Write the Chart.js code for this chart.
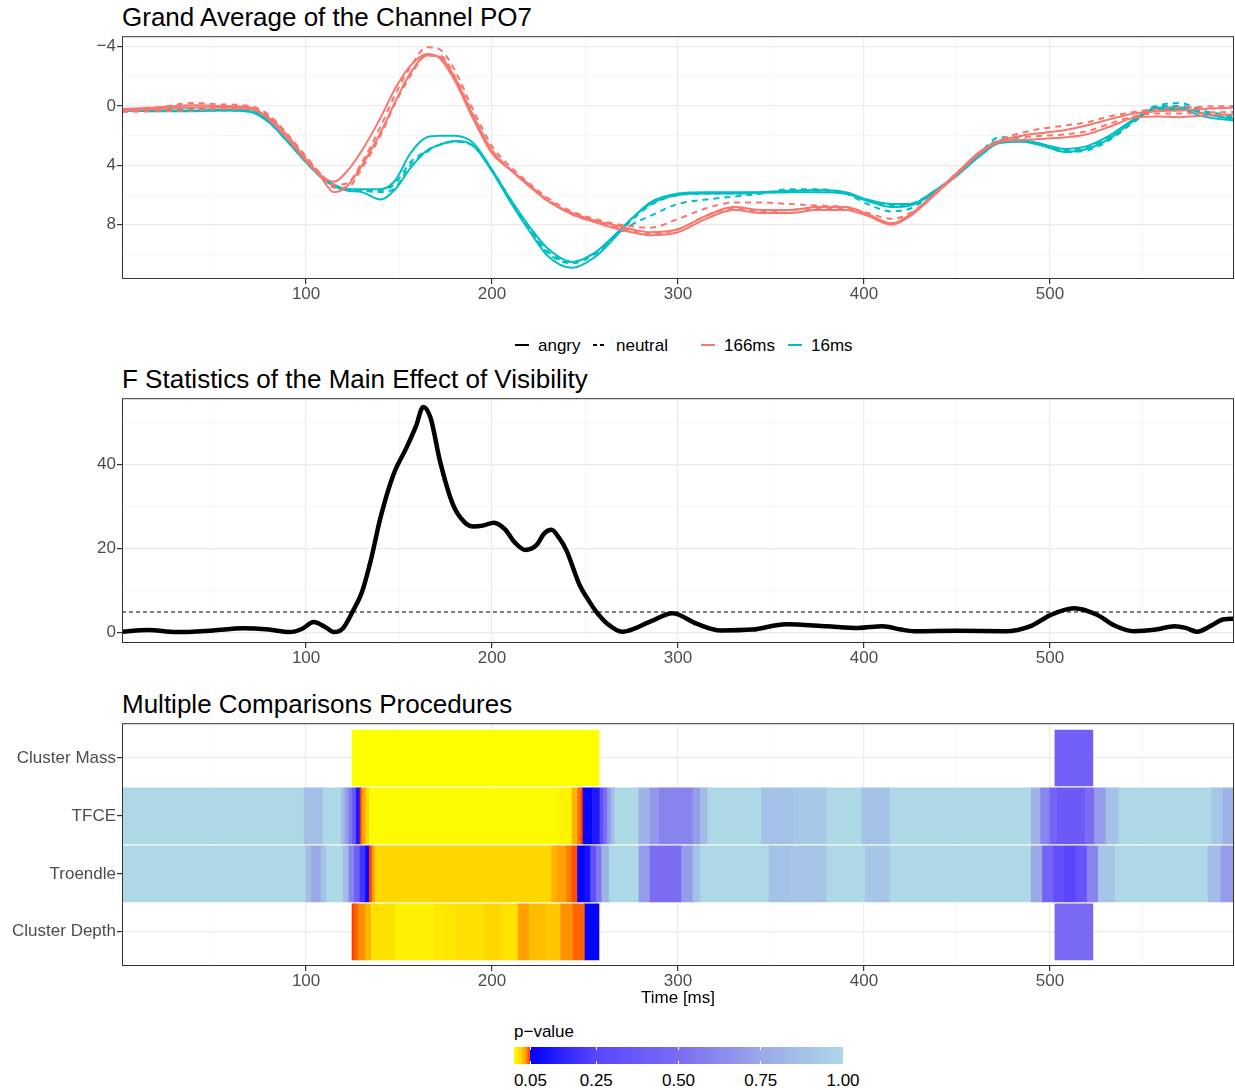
<!DOCTYPE html>
<html>
<head>
<meta charset="utf-8">
<script src="https://cdn.jsdelivr.net/npm/chart.js@4.4.1/dist/chart.umd.min.js"></script>
<style>
  body { margin: 0; background: #fff; font-family: "Liberation Sans", Arial, sans-serif; }
  #wrap { position: relative; width: 1235px; height: 1090px; overflow: hidden; }
  canvas { position: absolute; left: 0; }
  .ttl { position: absolute; left: 122px; font-size: 26px; line-height: 1; color: #000; white-space: nowrap; }
  .lg { position: absolute; font-size: 17px; line-height: 1; color: #000; white-space: nowrap; }
  .cbl { position: absolute; font-size: 17px; line-height: 1; color: #000; white-space: nowrap; transform: translateX(-50%); }
  svg { position: absolute; overflow: visible; }
</style>
</head>
<body>
<div id="wrap">
  <div class="ttl" style="top:4px">Grand Average of the Channel PO7</div>
  <canvas id="erp" width="1235" height="285" style="top:25px"></canvas>

  <div id="legend"></div>

  <div class="ttl" style="top:366px">F Statistics of the Main Effect of Visibility</div>
  <canvas id="fstat" width="1235" height="287" style="top:387px"></canvas>

  <div class="ttl" style="top:691px">Multiple Comparisons Procedures</div>
  <canvas id="heat" width="1235" height="298" style="top:712px"></canvas>

  <div id="colorbar"></div>
</div>

<script>
Chart.defaults.font.family = '"Liberation Sans", Arial, sans-serif';
Chart.defaults.animation = false;

// ---------- data: grand average (µV), one shared time grid ----------
const times = [1, 20, 40, 55, 70, 80, 90, 100, 108, 115, 122, 130, 140, 148, 156, 165, 172, 180, 190, 200,
  210, 220, 230, 243, 255, 265, 275, 285, 300, 315, 330, 345, 360, 375, 390, 402, 415, 425, 437, 450,
  462, 473, 485, 497, 509, 520, 532, 545, 558, 570, 582, 600];

const angry166a = [0.2,0.1,-0.05,0.0,0.1, 0.9,2.2,3.7,4.7,5.1, 4.4,3.0,0.8,-1.2,-2.7, -3.5,-3.2,-1.7,0.9,3.2,
  4.3,5.3,6.4,7.2,7.7, 8.0,8.3,8.5,8.3,7.4, 6.8,7.0,7.0,6.8,6.8, 7.3,7.9,7.3,6.0,4.5,
  3.1,2.4,2.3,2.2,2.1, 1.9,1.4,0.8,0.7,0.75, 0.65,0.55];
const angry166b = [0.3,0.2,0.1,0.1,0.2, 0.8,2.0,3.6,4.8,5.8, 5.4,4.0,1.8,-0.3,-2.2, -3.4,-3.3,-1.9,0.7,3.0,
  4.3,5.4,6.4,7.3,7.8, 8.2,8.5,8.7,8.5,7.6, 7.0,7.2,7.2,7.0,7.0, 7.4,8.0,7.4,6.1,4.6,
  3.2,2.4,2.0,1.8,1.6, 1.3,0.9,0.5,0.35,0.3, 0.2,0.1];
const neutral166a = [0.3,0.1,-0.2,-0.1,0.0, 0.6,1.9,3.4,4.6,5.3, 5.2,3.8,1.4,-0.8,-2.6, -3.95,-3.8,-2.4,0.3,2.7,
  4.1,5.2,6.2,7.1,7.6, 7.9,8.1,8.2,7.6,6.9, 6.5,6.5,6.6,6.7,6.8, 7.2,7.6,7.2,6.0,4.5,
  3.2,2.3,1.8,1.5,1.3, 1.1,0.7,0.4,0.2,0.1, 0.05,0.0];
const neutral166b = [0.4,0.35,0.3,0.2,0.2, 0.7,2.0,3.5,4.6,5.5, 5.5,4.2,2.0,-0.2,-2.0, -3.4,-3.4,-2.0,0.6,3.0,
  4.3,5.4,6.3,7.3,7.8, 8.1,8.4,8.6,8.3,7.4, 6.9,7.1,7.0,6.9,6.9, 7.3,7.9,7.3,6.1,4.6,
  3.2,2.3,2.1,2.0,1.9, 1.7,1.2,0.7,0.5,0.5, 0.45,0.4];
const angry16a = [0.3,0.3,0.3,0.25,0.35, 1.0,2.3,3.7,4.7,5.3, 5.6,5.6,5.6,5.0,3.2, 2.1,2.0,2.0,2.5,4.3,
  6.3,8.1,9.6,10.5,9.9, 8.8,7.6,6.5,5.9,5.8, 5.8,5.8,5.7,5.65,5.8, 6.3,6.6,6.6,5.8,4.6,
  3.3,2.4,2.3,2.6,2.9, 2.7,2.0,0.9,0.1,0.1, 0.5,0.9];
const angry16b = [0.3,0.35,0.35,0.3,0.4, 1.1,2.4,3.8,4.8,5.4, 5.7,5.8,6.3,5.6,4.2, 3.0,2.6,2.35,2.7,4.4,
  6.5,8.4,10.1,10.9,10.2, 9.0,7.6,6.6,6.0,5.9, 5.9,5.85,5.8,5.8,5.9, 6.4,6.8,6.7,5.9,4.7,
  3.4,2.5,2.4,2.7,3.1, 2.9,2.2,1.0,0.2,0.2, 0.7,1.0];
const neutral16a = [0.2,0.2,0.2,0.2,0.3, 1.0,2.3,3.7,4.7,5.3, 5.6,5.7,5.7,5.2,3.8, 3.0,2.6,2.4,2.7,4.3,
  6.3,8.2,9.8,10.5,9.9, 8.9,8.0,7.4,6.6,6.3, 6.1,5.9,5.6,5.6,5.9, 6.6,7.1,6.9,5.9,4.6,
  3.2,2.1,2.2,2.7,3.1, 3.0,2.3,1.1,0.0,-0.2, 0.3,0.7];
const neutral16b = [0.3,0.3,0.3,0.3,0.35, 1.1,2.4,3.8,4.8,5.4, 5.6,5.7,5.8,5.5,4.0, 3.1,2.6,2.4,2.7,4.4,
  6.4,8.3,9.9,10.6,10.0, 8.9,7.7,6.7,6.0,5.9, 5.9,5.8,5.8,5.7,5.8, 6.4,6.7,6.6,5.8,4.6,
  3.3,2.3,2.3,2.7,3.0, 2.8,2.1,0.9,0.0,0.0, 0.4,0.8];

// ---------- data: F statistic ----------
const fTimes = [1,15,30,50,66,80,91,98,104,110,115,120,125,130,135,140,147,154,159,163,167,172,179,185,190,
  195,201,207,212,218,224,228,232,236,240,247,252,256,262,270,285,297,310,323,340,358,380,397,410,420,
  427,450,476,490,500,513,525,535,545,557,567,573,579,587,593,600];
const fValues = [0.1,0.5,0.0,0.4,0.9,0.6,0.0,0.8,2.4,1.3,0.0,1.0,4.9,9.5,17.5,27.3,37.6,44,49,53.7,51,40.8,30.4,26.3,25.2,
  25.4,26.1,24.5,21.5,19.6,20.8,23.5,24.4,22.5,19.5,11.3,7.5,4.9,2.0,0.1,2.5,4.5,2.0,0.4,0.6,1.9,1.4,1.0,1.4,0.6,
  0.2,0.3,0.2,1.5,4.0,5.7,4.2,1.5,0.2,0.6,1.4,1.0,0.1,1.6,3.0,3.2];
const fCritical = 4.8;

// ---------- data: corrected p-values (segment edges in ms, one p per segment, null = not tested) ----------
const methods = ['Cluster Mass', 'TFCE', 'Troendle', 'Cluster Depth'];

const massEdges = [124.7, 257.5, 502.7, 523.1];
const massP = [0.0, null, 0.42];

const tfceEdges = [1, 99, 109, 119, 121, 123, 125, 127, 129, 130, 132, 134, 236, 243, 246, 248, 249, 254, 258, 260,
  262, 264, 266, 279, 285, 290, 308, 312, 316, 345, 362, 380, 399, 414, 490, 495, 500, 504, 519, 524,
  530, 537, 587, 593, 600];
const tfceP = [1.0, 0.87, 1.0, 0.85, 0.7, 0.55, 0.35, 0.12, 0.049, 0.035, 0.02, 0.002, 0.006, 0.03, 0.042, 0.049, 0.06, 0.12, 0.3,
  0.5, 0.7, 0.85, 1.0, 0.8, 0.68, 0.6, 0.7, 0.85, 1.0, 0.88, 0.92, 1.0, 0.88, 1.0, 0.8, 0.6, 0.45, 0.38, 0.5,
  0.7, 0.88, 1.0, 0.9, 0.8];

const troendleEdges = [1, 100, 103, 108, 111, 120, 123, 126, 129, 132, 134, 135.5, 137, 232, 235, 240, 243, 246, 250, 253,
  256, 259, 263, 279, 285, 302, 308, 312, 349, 360, 380, 401, 414, 490, 496, 502, 508, 514, 520, 526,
  535, 585, 592, 600];
const troendleP = [1.0, 0.85, 0.75, 0.88, 1.0, 0.85, 0.6, 0.4, 0.2, 0.07, 0.048, 0.035, 0.02, 0.03, 0.035, 0.04, 0.046, 0.06, 0.1,
  0.3, 0.55, 0.8, 1.0, 0.7, 0.5, 0.7, 0.88, 1.0, 0.88, 0.9, 1.0, 0.9, 1.0, 0.75, 0.45, 0.3, 0.25, 0.35, 0.6,
  0.9, 1.0, 0.85, 0.7];

const depthEdges = [124.7, 125.7, 128, 132, 135, 148, 169, 180, 196, 205, 214, 220, 229, 237, 243.6, 250, 257.5, 502.7, 523.1];
const depthP = [0.049, 0.044, 0.037, 0.029, 0.015, 0.007, 0.012, 0.015, 0.02, 0.014, 0.035, 0.027, 0.024, 0.037, 0.043, 0.06, null, 0.48];

// colour scale of p
const pStops = [[0, '#FFFF00'], [0.02, '#FFD700'], [0.035, '#FFA000'], [0.05, '#FF3000'], [0.0501, '#0000FF'],
  [0.25, '#5A46FF'], [0.5, '#7B6CF2'], [0.75, '#9BA8E8'], [1, '#ADD8E6']];
const pTicks = [0.05, 0.25, 0.5, 0.75, 1];

const xTicks = [50, 100, 150, 200, 250, 300, 350, 400, 450, 500, 550];

// ---------- helpers ----------
function hex(c) { return [1, 3, 5].map(i => parseInt(c.slice(i, i + 2), 16)); }
function pColor(p) {
  for (let i = 1; i < pStops.length; i++) {
    if (p <= pStops[i][0]) {
      const [p0, c0] = pStops[i - 1], [p1, c1] = pStops[i];
      const f = (p - p0) / (p1 - p0), a = hex(c0), b = hex(c1);
      return 'rgb(' + a.map((v, k) => Math.round(v + (b[k] - v) * f)).join(',') + ')';
    }
  }
  return pStops[pStops.length - 1][1];
}

const frame = {
  id: 'frame',
  afterDatasetsDraw(chart) {
    const { ctx, chartArea: a } = chart;
    ctx.save();
    ctx.strokeStyle = '#333333';
    ctx.lineWidth = 1;
    ctx.strokeRect(a.left + 0.5, a.top + 0.5, a.right - a.left - 1, a.bottom - a.top - 1);
    ctx.restore();
  }
};

const tickFont = { size: 17 };
const tv = c => (c.tick ? c.tick.value : NaN);
const isMajorX = v => v % 100 === 0;

function xScale(extra) {
  return Object.assign({
    type: 'linear', min: 1, max: 599,
    afterBuildTicks: ax => { ax.ticks = xTicks.map(v => ({ value: v })); },
    afterFit: ax => { ax.height = 31; },
    ticks: { callback: v => isMajorX(v) ? v : '', color: '#4D4D4D', font: tickFont, padding: 0, maxRotation: 0, autoSkip: false },
    grid: {
      offset: false,
      color: c => isMajorX(tv(c)) ? '#EBEBEB' : '#F3F3F3',
      lineWidth: c => isMajorX(tv(c)) ? 1.2 : 0.8,
      tickColor: c => isMajorX(tv(c)) ? '#333333' : 'rgba(0,0,0,0)',
      tickLength: 5
    },
    border: { display: false }
  }, extra);
}

function yScale(ticks, labelled, labelFn, extra) {
  return Object.assign({
    type: 'linear',
    afterBuildTicks: ax => { ax.ticks = ticks.map(v => ({ value: v })); },
    afterFit: ax => { ax.width = 122; },
    ticks: { callback: v => labelled.includes(v) ? labelFn(v) : '', color: '#4D4D4D', font: tickFont, padding: 1, autoSkip: false },
    grid: {
      offset: false,
      color: c => labelled.includes(tv(c)) ? '#EBEBEB' : '#F3F3F3',
      lineWidth: c => labelled.includes(tv(c)) ? 1.2 : 0.8,
      tickColor: c => labelled.includes(tv(c)) ? '#333333' : 'rgba(0,0,0,0)',
      tickLength: 5
    },
    border: { display: false }
  }, extra);
}

const asXY = (xs, ys) => xs.map((x, i) => ({ x, y: ys[i] }));

// ---------- Chart 1: grand average ----------
const RED = '#F8766D', CYAN = '#00BFC4';
function erpLine(vals, color, dashed) {
  return {
    data: asXY(times, vals), borderColor: color, borderWidth: 2, pointRadius: 0,
    borderDash: dashed ? [6, 5] : [], cubicInterpolationMode: 'monotone', fill: false
  };
}
new Chart(document.getElementById('erp'), {
  type: 'line',
  data: {
    datasets: [
      erpLine(angry166a, RED, false), erpLine(angry166b, RED, false),
      erpLine(neutral166a, RED, true), erpLine(neutral166b, RED, true),
      erpLine(angry16a, CYAN, false), erpLine(angry16b, CYAN, false),
      erpLine(neutral16a, CYAN, true), erpLine(neutral16b, CYAN, true)
    ]
  },
  options: {
    responsive: false,
    layout: { padding: { top: 7, right: 1, left: 0, bottom: 0 } },
    plugins: { legend: { display: false }, tooltip: { enabled: false } },
    scales: {
      x: xScale(),
      y: yScale([-4, -2, 0, 2, 4, 6, 8, 10], [-4, 0, 4, 8], v => v < 0 ? '\u2212' + Math.abs(v) : String(v),
        { reverse: true, min: -4.7, max: 11.65 })
    }
  },
  plugins: [frame]
});

// ---------- Chart 2: F statistic ----------
new Chart(document.getElementById('fstat'), {
  type: 'line',
  data: {
    datasets: [
      { data: asXY(fTimes, fValues), borderColor: '#000', borderWidth: 4.5, pointRadius: 0,
        cubicInterpolationMode: 'monotone', fill: false },
      { data: [{ x: 1, y: fCritical }, { x: 600, y: fCritical }], borderColor: '#000', borderWidth: 1.1,
        borderDash: [4, 3], pointRadius: 0, fill: false }
    ]
  },
  options: {
    responsive: false,
    layout: { padding: { top: 7, right: 1, left: 0, bottom: 0 } },
    plugins: { legend: { display: false }, tooltip: { enabled: false } },
    scales: {
      x: xScale(),
      y: yScale([0, 10, 20, 30, 40, 50], [0, 20, 40], v => String(v), { min: -2.6, max: 55.8 })
    }
  },
  plugins: [frame]
});

// ---------- Chart 3: p-value tiles ----------
function tileRow(row, edges, pv) {
  const data = [], colors = [];
  pv.forEach((p, i) => {
    if (p === null) return;
    data.push({ x: [edges[i], edges[i + 1]], y: row });
    colors.push(pColor(p));
  });
  return { data, backgroundColor: colors, borderWidth: 0, barThickness: 56, grouped: false };
}
new Chart(document.getElementById('heat'), {
  type: 'bar',
  data: {
    datasets: [
      tileRow(1, massEdges, massP),
      tileRow(2, tfceEdges, tfceP),
      tileRow(3, troendleEdges, troendleP),
      tileRow(4, depthEdges, depthP)
    ]
  },
  options: {
    responsive: false,
    indexAxis: 'y',
    layout: { padding: { top: 7, right: 1, left: 0, bottom: 0 } },
    plugins: { legend: { display: false }, tooltip: { enabled: false } },
    scales: {
      x: xScale({
        afterFit: ax => { ax.height = 44; },
        title: { display: true, text: 'Time [ms]', color: '#000', font: { size: 17 }, padding: { top: 0, bottom: 1 } }
      }),
      y: yScale([1, 2, 3, 4], [1, 2, 3, 4], v => methods[v - 1], { reverse: true, min: 0.4, max: 4.59, offset: false })
    }
  },
  plugins: [frame]
});

// ---------- legends (html) ----------
const legendItems = [
  { x: 515, label: 'angry', color: '#000', dash: '' },
  { x: 593, label: 'neutral', color: '#000', dash: '4 3' },
  { x: 701, label: '166ms', color: RED, dash: '' },
  { x: 788, label: '16ms', color: CYAN, dash: '' }
];
const lg = document.getElementById('legend');
legendItems.forEach(it => {
  lg.insertAdjacentHTML('beforeend',
    `<svg style="left:${it.x}px;top:345px" width="14" height="2"><line x1="0" y1="0" x2="14" y2="0" stroke="${it.color}" stroke-width="2" ${it.dash ? `stroke-dasharray="${it.dash}"` : ''}/></svg>` +
    `<div class="lg" style="left:${it.x + 23}px;top:337px">${it.label}</div>`);
});

const cb = document.getElementById('colorbar');
const barLeft = 514, barW = 329, barTop = 1047, barH = 17;
const grad = 'linear-gradient(to right,' + pStops.map(s => `${s[1]} ${(s[0] * 100).toFixed(2)}%`).join(',') + ')';
let cbHtml = `<div class="lg" style="left:${barLeft}px;top:1023px">p\u2212value</div>` +
  `<div style="position:absolute;left:${barLeft}px;top:${barTop}px;width:${barW}px;height:${barH}px;background:${grad}"></div>`;
pTicks.forEach(t => {
  const x = barLeft + t * barW;
  cbHtml += `<div style="position:absolute;left:${x - 0.5}px;top:${barTop}px;width:1px;height:3px;background:#fff"></div>` +
    `<div style="position:absolute;left:${x - 0.5}px;top:${barTop + barH - 3}px;width:1px;height:3px;background:#fff"></div>` +
    `<div class="cbl" style="left:${x}px;top:1072px">${t.toFixed(2)}</div>`;
});
cb.innerHTML = cbHtml;
</script>
</body>
</html>
